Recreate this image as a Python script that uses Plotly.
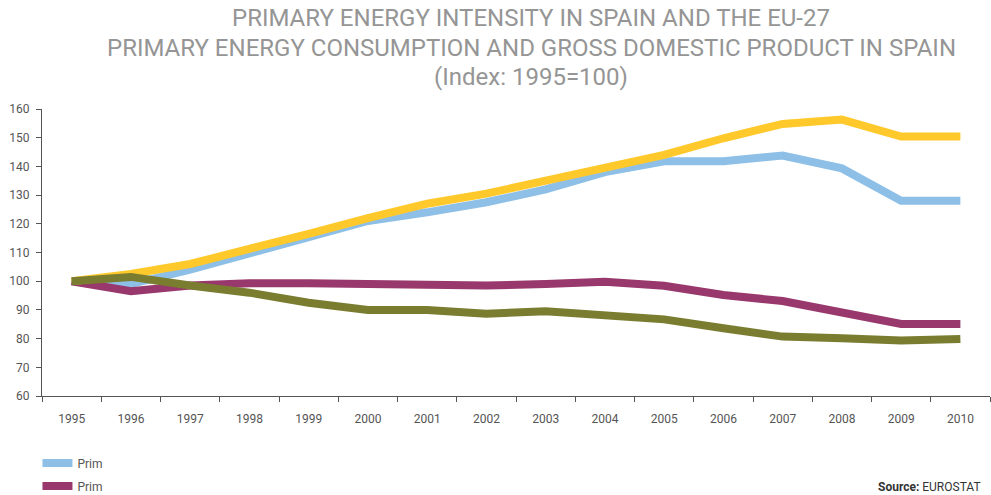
import plotly.graph_objects as go

years = [str(y) for y in range(1995, 2011)]
blue_vals = [100, 99, 104, 109.5, 115, 121, 124, 127.5, 132, 138, 141.8, 141.8, 143.8, 139.3, 128, 128]
purple_vals = [100, 96.5, 98.5, 99.3, 99.3, 99.2, 98.5, 98.5, 99, 99.8, 98.4, 95.2, 93.1, 89.4, 85.1, 85.1]
yellow_vals = [100, 102.5, 106, 111, 116.5, 122, 127, 130.5, 134.8, 139.3, 144, 149.8, 154.8, 156.3, 150.4, 150.4]
olive_vals = [100, 101.5, 98.5, 96, 92.5, 90, 90, 88.7, 89.5, 88.3, 86.7, 83.6, 80.7, 80.1, 79.3, 79.9]

y_ticks = list(range(60, 161, 10))
title_lines = [
    "PRIMARY ENERGY INTENSITY IN SPAIN AND THE EU-27",
    "PRIMARY ENERGY CONSUMPTION AND GROSS DOMESTIC PRODUCT IN SPAIN",
    "(Index: 1995=100)",
]

FONT = "Roboto, Arial"

fig = go.Figure()
fig.add_trace(go.Scatter(x=years, y=blue_vals, mode="lines", name="Prim", legendgroup="a",
                         line=dict(color="#8dbfe7", width=8), showlegend=True))
fig.add_trace(go.Scatter(x=years, y=purple_vals, mode="lines", name="Prim", legendgroup="b",
                         line=dict(color="#98386c", width=8), showlegend=True))
fig.add_trace(go.Scatter(x=years, y=yellow_vals, mode="lines", name="Prim", legendgroup="c",
                         line=dict(color="#ffc92c", width=8), showlegend=False))
fig.add_trace(go.Scatter(x=years, y=olive_vals, mode="lines", name="Prim", legendgroup="d",
                         line=dict(color="#7a7d30", width=8), showlegend=False))

title_y = [1.317, 1.2125, 1.111]
annotations = [
    dict(text=t, xref="paper", yref="paper", x=0.516, y=yy, xanchor="center", yanchor="middle",
         showarrow=False, borderpad=0, font=dict(family=FONT, size=24, color="#959595"))
    for t, yy in zip(title_lines, title_y)
]
annotations.append(
    dict(text="<b>Source:</b> EUROSTAT", xref="paper", yref="paper",
         x=0.9926, y=-0.317, xanchor="right", yanchor="middle", showarrow=False,
         font=dict(size=12, color="#333333", family=FONT))
)

fig.update_layout(
    width=991, height=495,
    margin=dict(l=42, r=1, t=109, b=99, autoexpand=False),
    paper_bgcolor="white", plot_bgcolor="white",
    font=dict(family=FONT, color="#555555", size=12),
    xaxis=dict(
        type="category", showgrid=False, showline=True, linecolor="#555555", linewidth=1,
        ticks="outside", tickson="boundaries", ticklen=5, tickcolor="#555555",
        tickfont=dict(size=12, color="#555555"), range=[-0.5, 15.5], zeroline=False,
        ticklabelstandoff=12,
    ),
    yaxis=dict(
        range=[60, 160], tickvals=y_ticks, showgrid=False, showline=True,
        linecolor="#555555", linewidth=1, ticks="outside", ticklen=5, tickcolor="#555555",
        tickfont=dict(size=12, color="#555555"), zeroline=False,
        ticklabelstandoff=4,
    ),
    legend=dict(
        x=0.0378, xref="container", y=0.0414, yref="container", xanchor="left", yanchor="middle",
        orientation="v", itemwidth=30, font=dict(size=12, color="#555555"),
        bgcolor="rgba(0,0,0,0)", tracegroupgap=4,
    ),
    annotations=annotations,
)

fig.write_html("out.html", config={"displayModeBar": False},
               post_script="document.body.style.margin='0';")
